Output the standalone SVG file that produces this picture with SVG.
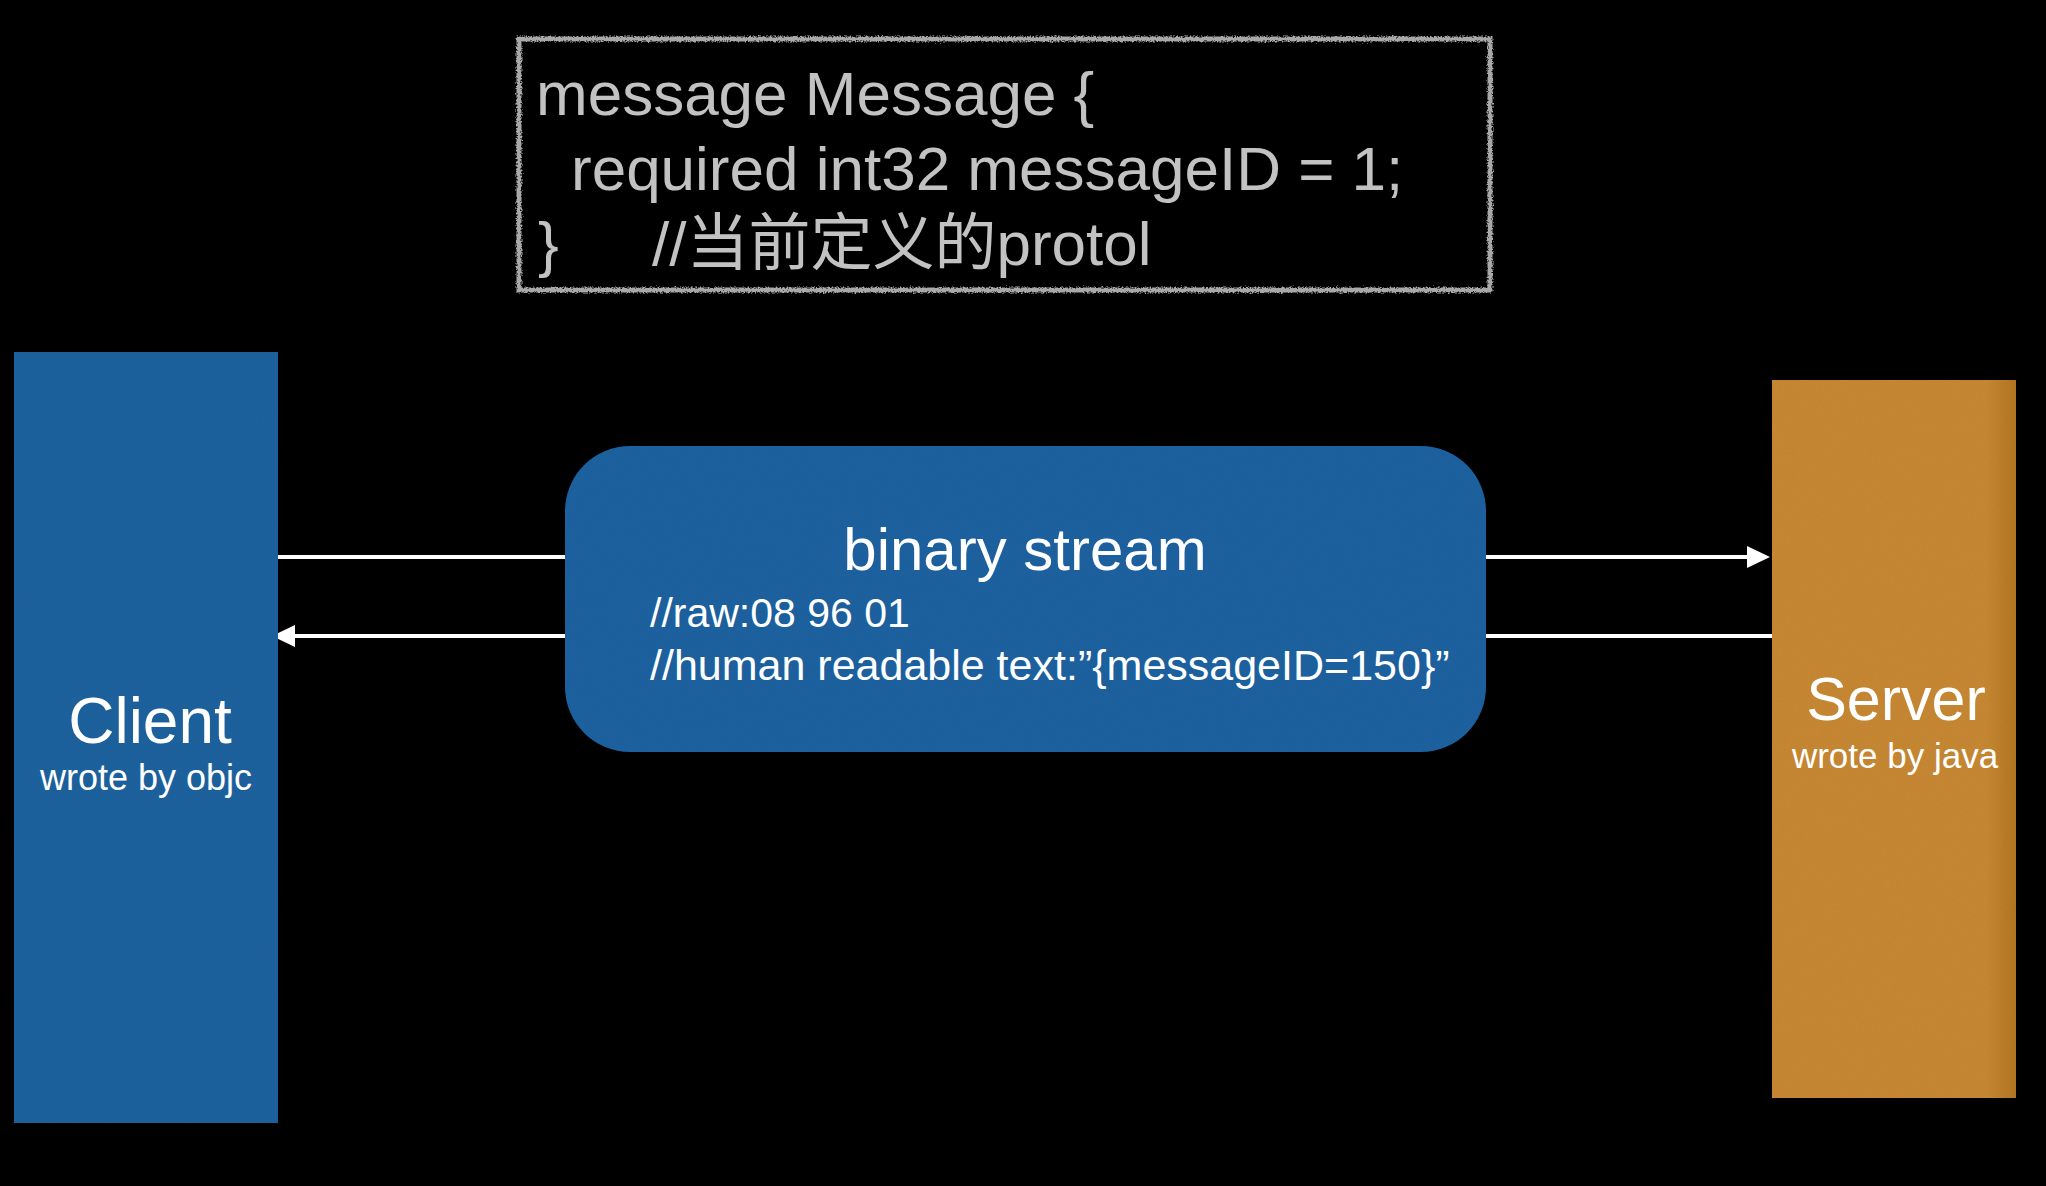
<svg xmlns="http://www.w3.org/2000/svg" width="2046" height="1186" viewBox="0 0 2046 1186">
  <style>
    .code { font-family: "Liberation Sans", Arial, "Noto Sans CJK SC", sans-serif; font-size: 62px; fill: #c2c2c2; }
    .title { font-family: "Liberation Sans", Arial, sans-serif; fill: #ffffff; }
    .sub { font-family: "Liberation Sans", Arial, sans-serif; fill: #ffffff; }
    .conn { stroke: #ffffff; stroke-width: 4; fill: none; }
  </style>
  <defs>
    <marker id="arrow" markerUnits="userSpaceOnUse" markerWidth="23" markerHeight="22" viewBox="0 0 23 22" refX="5" refY="11" orient="auto">
      <path d="M0,0 L23,11 L0,22 z" fill="#ffffff"/>
    </marker>
    <filter id="rough" x="-5%" y="-5%" width="110%" height="110%">
      <feTurbulence type="fractalNoise" baseFrequency="0.6" numOctaves="2" seed="3" result="n"/>
      <feDisplacementMap in="SourceGraphic" in2="n" scale="5" xChannelSelector="R" yChannelSelector="G"/>
    </filter>
    <filter id="grain" x="0" y="0" width="100%" height="100%">
      <feTurbulence type="fractalNoise" baseFrequency="0.9" numOctaves="2" seed="7" result="n"/>
      <feColorMatrix in="n" type="matrix" values="0 0 0 0 0  0 0 0 0 0  0 0 0 0 0  0 0 0 0.12 0" result="dark"/>
      <feComposite in="dark" in2="SourceGraphic" operator="in" result="darkIn"/>
      <feMerge><feMergeNode in="SourceGraphic"/><feMergeNode in="darkIn"/></feMerge>
    </filter>
    <linearGradient id="orange" x1="0" y1="0" x2="1" y2="0">
      <stop offset="0" stop-color="#c98a34"/>
      <stop offset="0.88" stop-color="#c98a34"/>
      <stop offset="1" stop-color="#b57827"/>
    </linearGradient>
  </defs>

  <rect x="0" y="0" width="2046" height="1186" fill="#000000"/>

  <g id="proto-definition">
    <rect x="519" y="39" width="971" height="251" fill="none" stroke="#a8a8a8" stroke-width="5" filter="url(#rough)"/>
    <text class="code" x="536" y="115">message Message {</text>
    <text class="code" x="571" y="190">required int32 messageID = 1;</text>
    <text class="code" x="538" y="265">}</text>
    <text class="code" x="652" y="265">//当前定义的protol</text>
  </g>

  <g id="connectors">
    <line class="conn" x1="278" y1="557" x2="1752" y2="557" marker-end="url(#arrow)"/>
    <line class="conn" x1="1777" y1="636" x2="290" y2="636" marker-end="url(#arrow)"/>
  </g>

  <g id="client">
    <rect x="14" y="352" width="264" height="771" fill="#2063a0" filter="url(#grain)"/>
    <text class="title" x="150" y="743" font-size="64" text-anchor="middle">Client</text>
    <text class="sub" x="146" y="790" font-size="36" text-anchor="middle">wrote by objc</text>
  </g>

  <g id="binary-stream">
    <rect x="565" y="446" width="921" height="306" rx="65" ry="65" fill="#2064a2" filter="url(#grain)"/>
    <text class="title" x="1025" y="570" font-size="60" text-anchor="middle">binary stream</text>
    <text class="sub" x="650" y="627" font-size="41">//raw:08 96 01</text>
    <text class="sub" x="650" y="680" font-size="43">//human readable text:”{messageID=150}”</text>
  </g>

  <g id="server">
    <rect x="1772" y="380" width="244" height="718" fill="url(#orange)" filter="url(#grain)"/>
    <text class="title" x="1896" y="720" font-size="61" text-anchor="middle">Server</text>
    <text class="sub" x="1895" y="768" font-size="35" text-anchor="middle">wrote by java</text>
  </g>
</svg>
